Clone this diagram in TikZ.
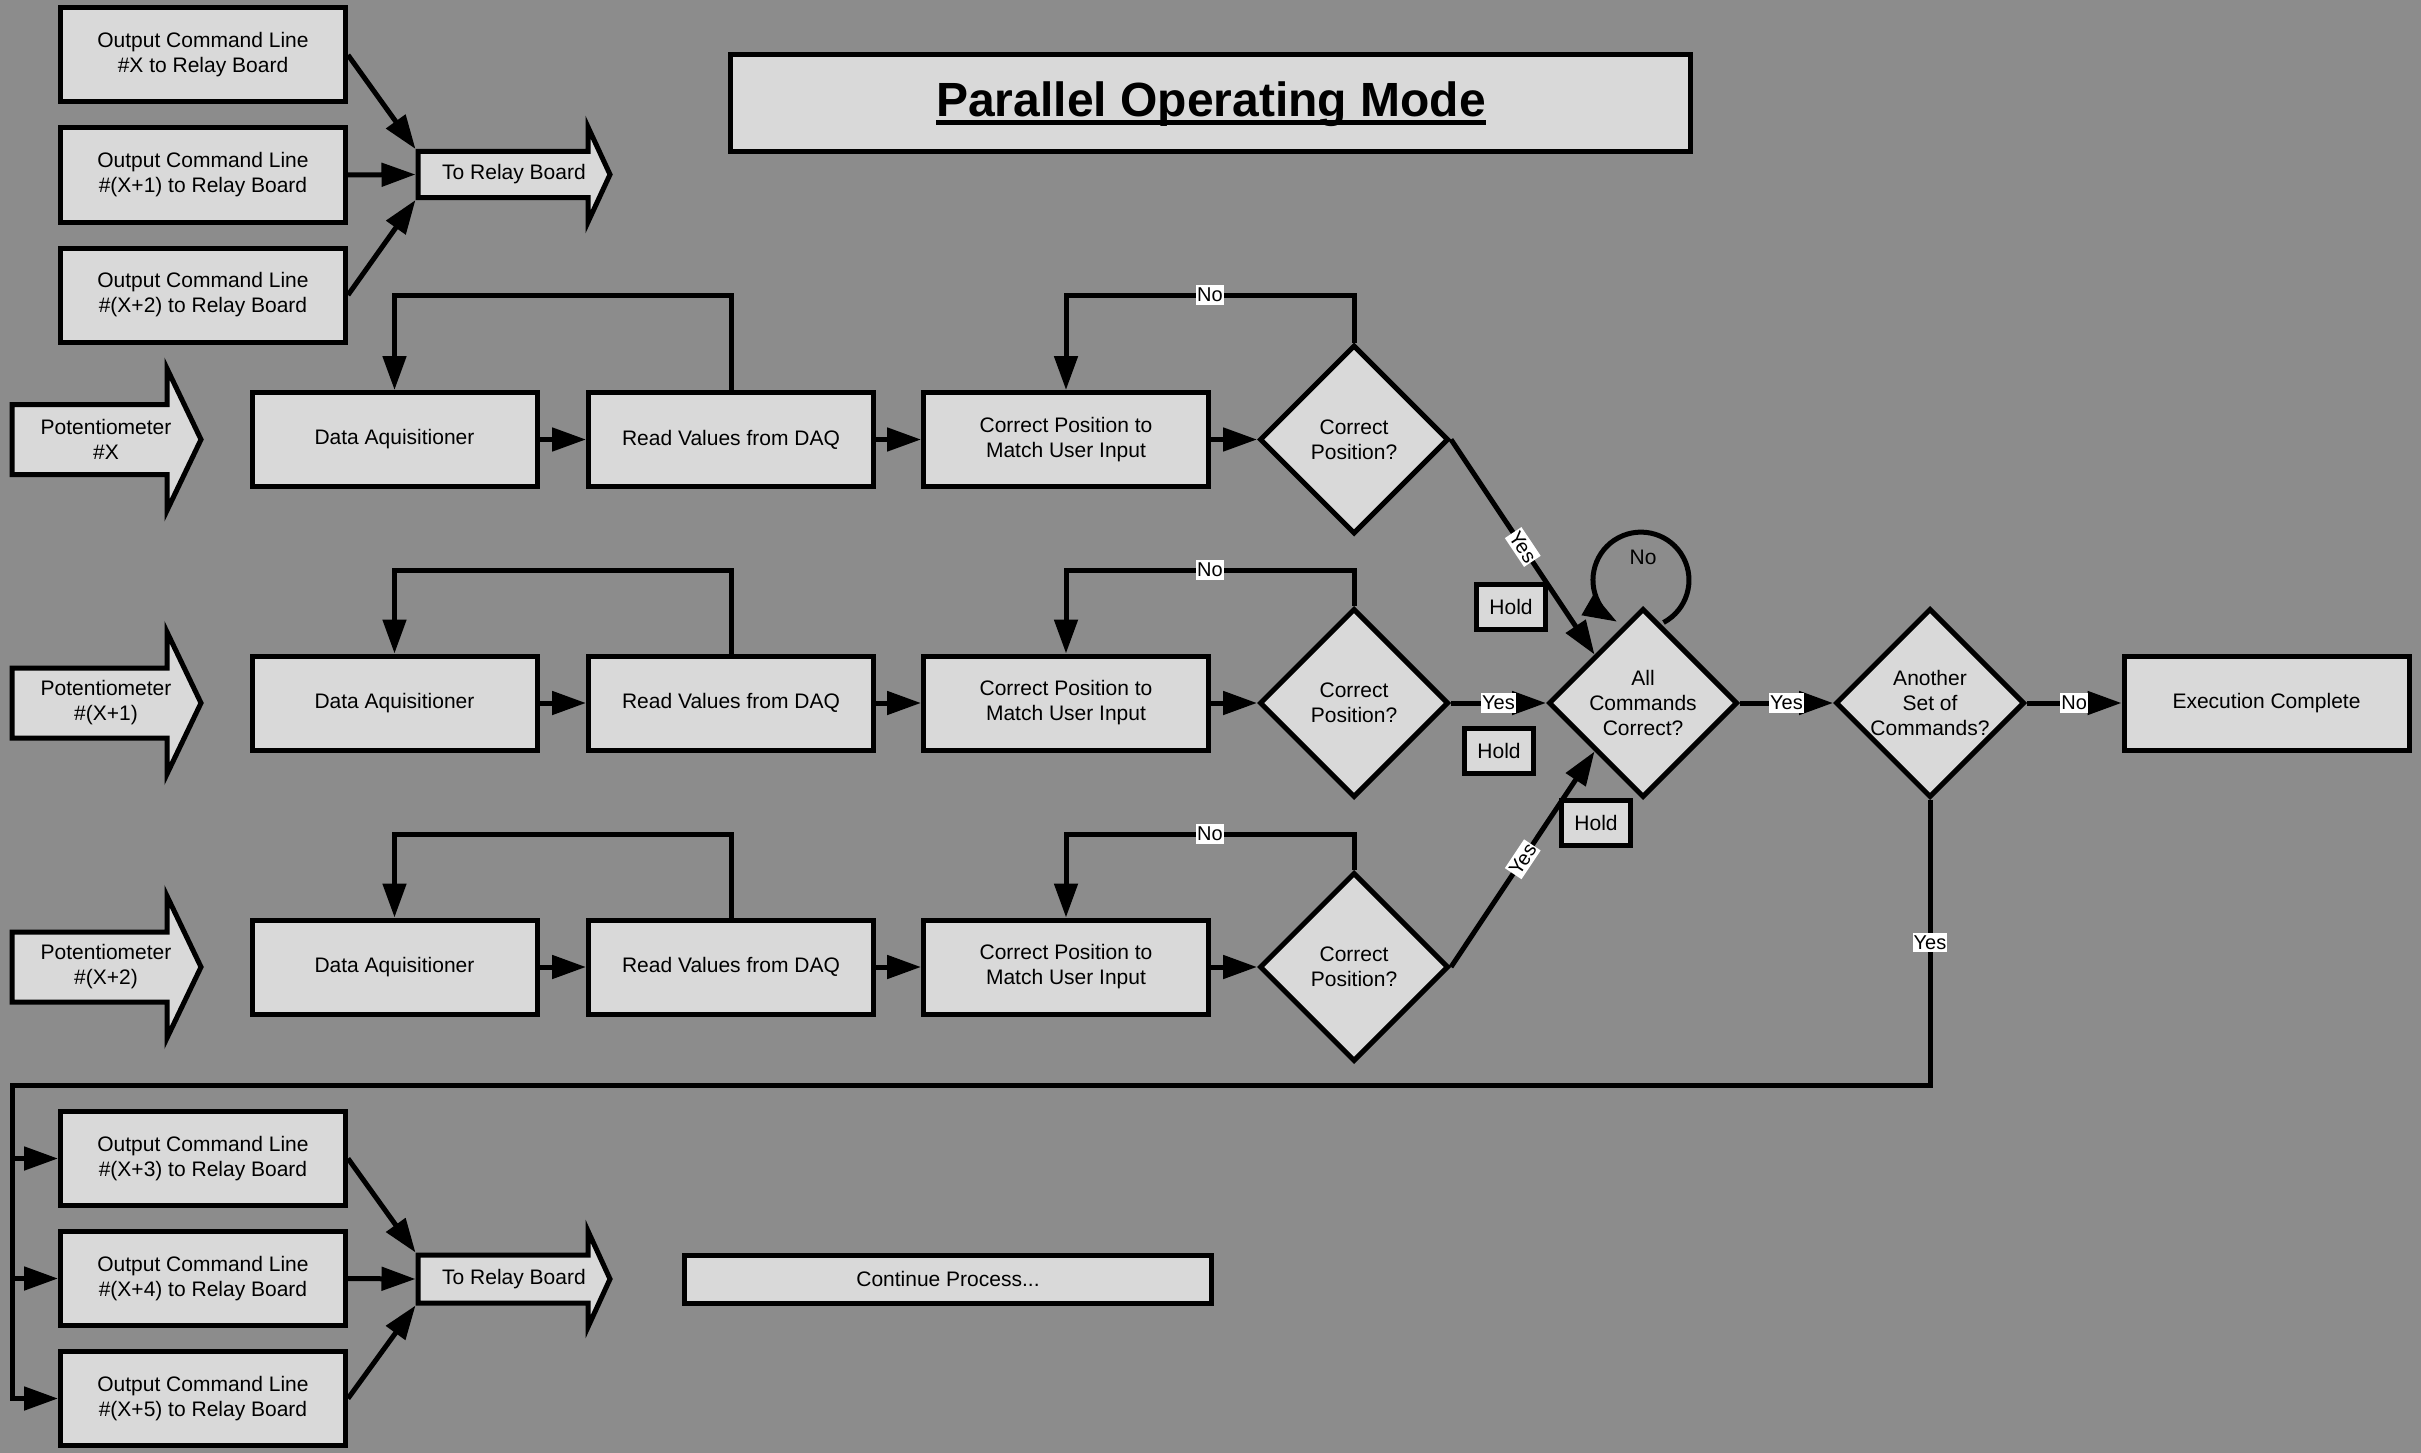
\documentclass[tikz,border=0pt]{standalone}
\usepackage{fontspec}
\setmainfont{Liberation Sans}
\usetikzlibrary{shapes.geometric,arrows.meta}
\definecolor{bgc}{RGB}{140,140,140}
\definecolor{boxc}{RGB}{217,217,217}
\begin{document}
\begin{tikzpicture}[x=1pt,y=1pt,
 every node/.style={font=\fontsize{21}{25}\selectfont},
 box/.style={draw=black, fill=boxc, line width=5pt, minimum width=285pt, minimum height=94pt, inner sep=0pt, align=center},
 dia/.style={draw=black, fill=boxc, line width=5pt, diamond, aspect=1, minimum width=189pt, minimum height=189pt, inner sep=0pt, align=center},
 shp/.style={draw=black, fill=boxc, line width=5pt, line join=miter},
 line/.style={line width=5pt},
 conn/.style={line width=5pt, -{Triangle[length=34pt,width=23pt]}},
 lbl/.style={fill=white, font=\fontsize{20}{22}\selectfont, inner xsep=1pt, inner ysep=3pt},
 holdbox/.style={draw=black, fill=boxc, line width=5pt, minimum width=69pt, minimum height=45pt, inner sep=0pt},
 anchorbody/.style={minimum width=170pt, minimum height=46pt, inner sep=0pt, outer sep=2.5pt}
]
\useasboundingbox (0,0) rectangle (2421,-1453);
\fill[bgc] (0,0) rectangle (2421,-1453);

% title
\node[draw=black, fill=boxc, line width=5pt, minimum width=960pt, minimum height=97pt, inner sep=0pt] (titlebox) at (1210.5,-103) {};
\node[font=\bfseries\fontsize{48}{50}\selectfont, inner sep=0pt, anchor=base] (title) at (1211,-117) {Parallel Operating Mode};
\draw[line width=4.3pt] ([yshift=-5.5pt]title.base west) -- ([yshift=-5.5pt]title.base east);

% top output command lines
\node[box] (ocl1) at (203,-55) {Output Command Line\\\#X to Relay Board};
\node[box] (ocl2) at (203,-175) {Output Command Line\\\#(X+1) to Relay Board};
\node[box] (ocl3) at (203,-295) {Output Command Line\\\#(X+2) to Relay Board};
\draw[shp] (418,-151.5) -- (588,-151.5) -- (588,-127) -- (610,-174.5) -- (588,-222) -- (588,-197.5) -- (418,-197.5) -- cycle;
\node[anchorbody] (trb1) at (503,-174.5) {};
\node (trb1t) at (514,-174.5) {To Relay Board};
\draw[conn] (ocl1.east) -- (trb1.north west);
\draw[conn] (ocl2.east) -- (trb1.west);
\draw[conn] (ocl3.east) -- (trb1.south west);

% rows
\foreach \i/\y/\ly/\lb in {1/-439.5/-295/X, 2/-703/-570/(X+1), 3/-967/-834/(X+2)}{
  \draw[shp] (12,\y+35) -- (167,\y+35) -- (167,\y+71) -- (201,\y) -- (167,\y-71) -- (167,\y-35) -- (12,\y-35) -- cycle;
  \node[align=center] (pot\i) at (106,\y) {Potentiometer\\\#\lb};
  \node[box] (DA\i) at (394.5,\y) {Data Aquisitioner};
  \node[box] (RV\i) at (731,\y) {Read Values from DAQ};
  \node[box] (CP\i) at (1066,\y) {Correct Position to\\Match User Input};
  \node[dia] (D\i) at (1354,\y) {Correct\\Position?};
  \coordinate (lp\i) at (0,\ly);
  \draw[conn] (DA\i.east) -- (RV\i.west);
  \draw[conn] (RV\i.east) -- (CP\i.west);
  \draw[conn] (CP\i.east) -- (D\i.west);
  \draw[conn] (RV\i.north) -- (RV\i.north |- lp\i) -- (DA\i.north |- lp\i) -- (DA\i.north);
  \draw[conn] (D\i.north) -- (D\i.north |- lp\i) -- node[lbl]{No} (CP\i.north |- lp\i) -- (CP\i.north);
}

% merge
\node[dia] (AC) at (1643,-703) {All\\Commands\\Correct?};
\node[dia] (AS) at (1930,-703) {Another\\Set of\\Commands?};
\node[box] (EC) at (2266.5,-703) {Execution Complete};
\node[holdbox] (h1) at (1511,-607) {Hold};
\node[holdbox] (h2) at (1499,-751) {Hold};
\node[holdbox] (h3) at (1596,-823) {Hold};
\draw[conn] (D1.east) -- node[lbl, sloped]{Yes} (AC.north west);
\draw[conn] (D2.east) -- node[lbl]{Yes} (AC.west);
\draw[conn] (D3.east) -- node[lbl, sloped]{Yes} (AC.south west);
\draw[conn] ([shift={(20.5,-16.5)}]AC.north) arc[start angle=-62, end angle=240, radius=48pt];
\node (acno) at (1643,-557) {No};
\draw[conn] (AC.east) -- node[lbl]{Yes} (AS.west);
\draw[conn] (AS.east) -- node[lbl]{No} (EC.west);

% bottom
\node[box] (ocl4) at (203,-1158.5) {Output Command Line\\\#(X+3) to Relay Board};
\node[box] (ocl5) at (203,-1278.5) {Output Command Line\\\#(X+4) to Relay Board};
\node[box] (ocl6) at (203,-1398.5) {Output Command Line\\\#(X+5) to Relay Board};
\draw[shp] (418,-1255) -- (588,-1255) -- (588,-1231) -- (610,-1279) -- (588,-1327) -- (588,-1303) -- (418,-1303) -- cycle;
\node[anchorbody, minimum height=48pt] (trb2) at (503,-1279) {};
\node (trb2t) at (514,-1279) {To Relay Board};
\draw[conn] (ocl4.east) -- (trb2.north west);
\draw[conn] (ocl5.east) -- (trb2.west);
\draw[conn] (ocl6.east) -- (trb2.south west);
\node[draw=black, fill=boxc, line width=5pt, minimum width=527pt, minimum height=48pt, inner sep=0pt] (cont) at (948,-1279) {Continue Process...};

\coordinate (tr) at (12,-1085);
\draw[conn] (AS.south) -- node[lbl]{Yes} (AS.south |- tr) -- (tr) |- (ocl6.west);
\draw[conn] (tr |- ocl4.west) -- (ocl4.west);
\draw[conn] (tr |- ocl5.west) -- (ocl5.west);
\end{tikzpicture}
\end{document}
